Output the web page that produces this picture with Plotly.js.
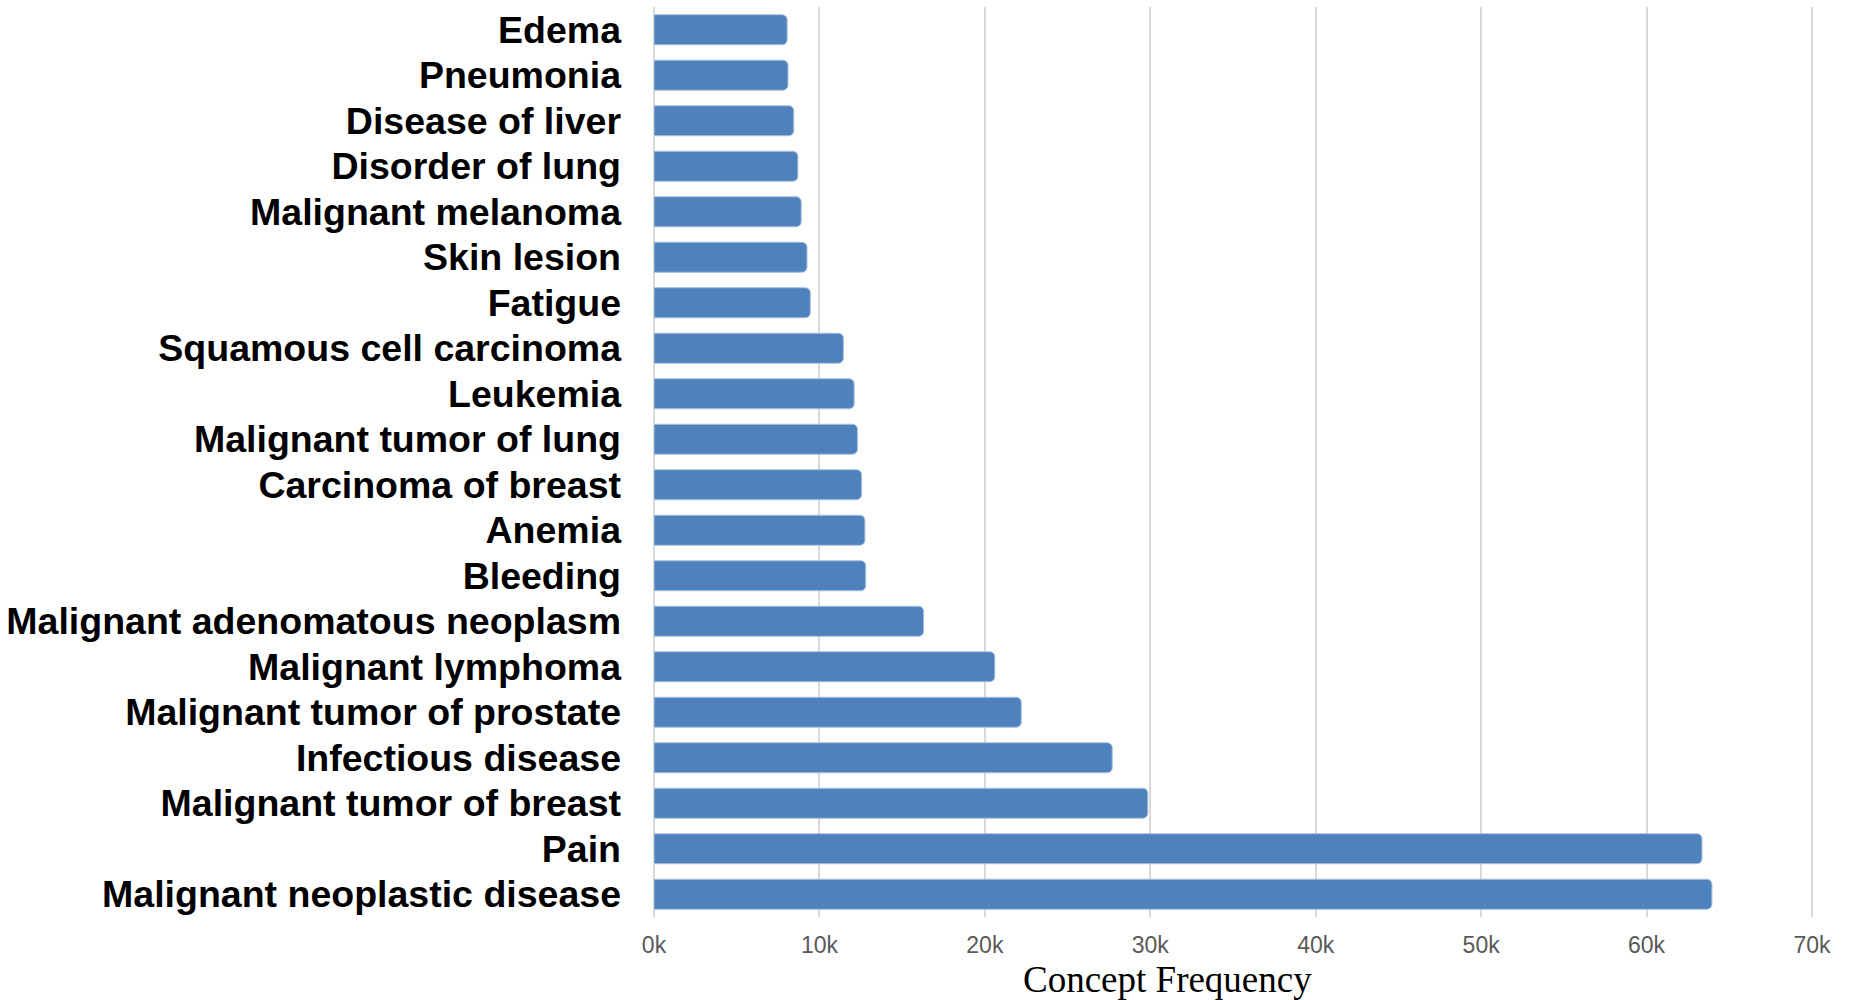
<!DOCTYPE html>
<html>
<head>
<meta charset="utf-8">
<script src="https://cdn.plot.ly/plotly-3.0.1.min.js"></script>
<style>
  html, body { margin: 0; padding: 0; background: #ffffff; }
  #chart { width: 1853px; height: 1000px; }
</style>
</head>
<body>
<div id="chart"></div>
<script>
// Concept names, most frequent first (first category sits at the bottom of the axis)
const concepts = [
  "Malignant neoplastic disease",
  "Pain",
  "Malignant tumor of breast",
  "Infectious disease",
  "Malignant tumor of prostate",
  "Malignant lymphoma",
  "Malignant adenomatous neoplasm",
  "Bleeding",
  "Anemia",
  "Carcinoma of breast",
  "Malignant tumor of lung",
  "Leukemia",
  "Squamous cell carcinoma",
  "Fatigue",
  "Skin lesion",
  "Malignant melanoma",
  "Disorder of lung",
  "Disease of liver",
  "Pneumonia",
  "Edema"
];

// Number of occurrences of each concept
const frequency = [
  63950, 63350, 29850, 27700, 22200, 20600, 16300, 12800, 12750, 12550,
  12300, 12100, 11450, 9450, 9250, 8900, 8700, 8450, 8100, 8050
];

// X axis ticks
const tickValues = [0, 10000, 20000, 30000, 40000, 50000, 60000, 70000];
const tickLabels = ["0k", "10k", "20k", "30k", "40k", "50k", "60k", "70k"];

const axisTitle = "Concept Frequency";

const trace = {
  type: "bar",
  orientation: "h",
  y: concepts,
  x: frequency,
  marker: {
    color: "#4f81bd",
    line: { color: "#a9c1df", width: 1 },
    cornerradius: 5
  },
  hoverinfo: "x+y"
};

const layout = {
  width: 1853,
  height: 1000,
  paper_bgcolor: "#ffffff",
  plot_bgcolor: "#ffffff",
  margin: { l: 654, r: 39, t: 7, b: 83, pad: 0 },
  bargap: 0.34,
  showlegend: false,
  xaxis: {
    // a little headroom past 70k so the last gridline is drawn
    range: [0, 70120],
    tickvals: tickValues,
    ticktext: tickLabels,
    showgrid: true,
    gridcolor: "#d9d9d9",
    gridwidth: 2,
    zeroline: true,
    zerolinecolor: "#d9d9d9",
    zerolinewidth: 2,
    showline: false,
    ticks: "",
    ticklabelstandoff: 12,
    tickfont: { family: "Liberation Sans, Arial, sans-serif", size: 23, color: "#595959" },
    fixedrange: true
  },
  yaxis: {
    type: "category",
    showgrid: false,
    zeroline: false,
    showline: false,
    ticks: "",
    ticklabelstandoff: 32,
    tickfont: { family: "Liberation Sans, Arial, sans-serif", size: 37.5, color: "#000000", weight: "bold" },
    fixedrange: true
  },
  annotations: [{
    text: axisTitle,
    xref: "paper",
    yref: "paper",
    x: 0.443,
    y: -0.069,
    xanchor: "center",
    yanchor: "middle",
    showarrow: false,
    font: { family: "Liberation Serif, Times New Roman, serif", size: 37, color: "#000000" }
  }]
};

Plotly.newPlot("chart", [trace], layout, { displayModeBar: false, staticPlot: true });
</script>
</body>
</html>
